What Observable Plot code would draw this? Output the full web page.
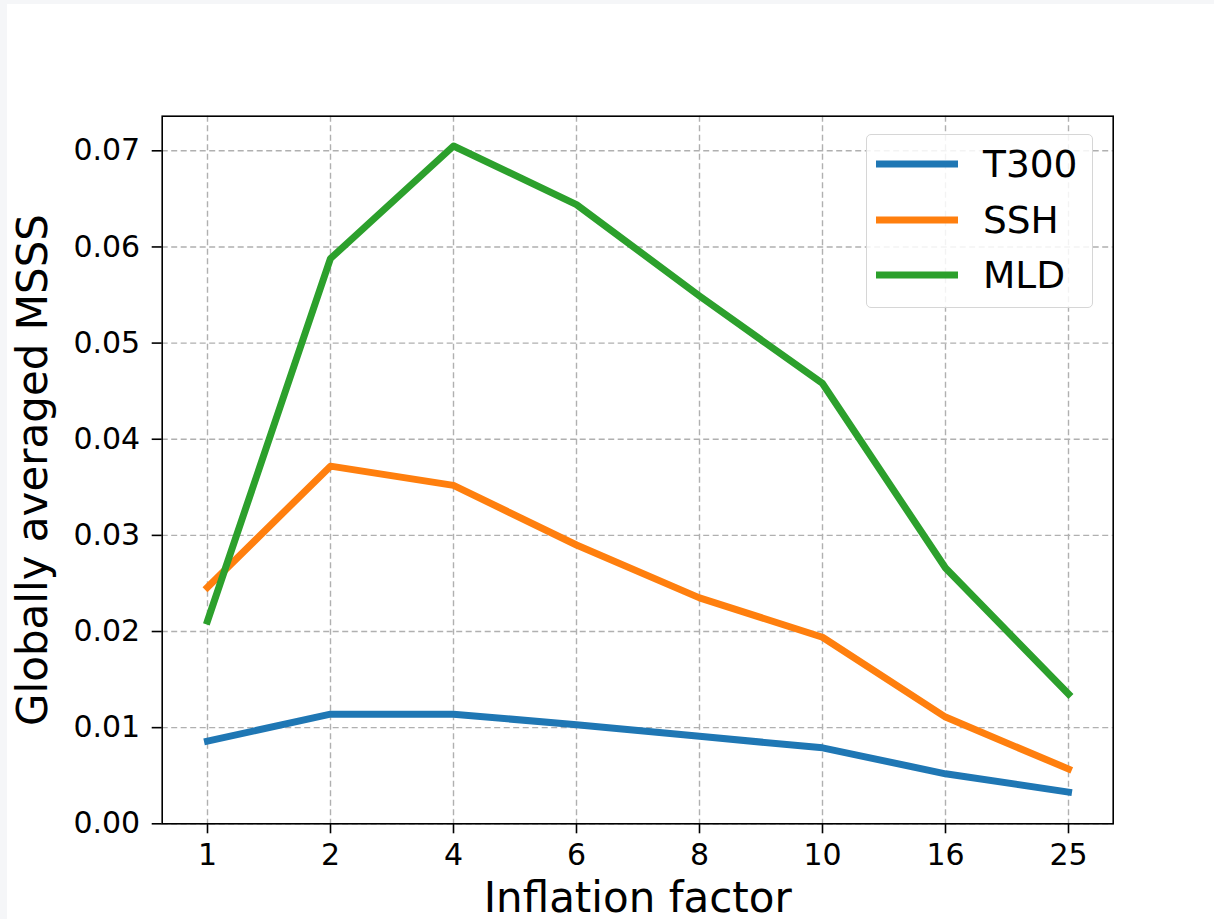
<!DOCTYPE html>
<html>
<head>
<meta charset="utf-8">
<script src="https://cdn.jsdelivr.net/npm/d3@7"></script>
<script src="https://cdn.jsdelivr.net/npm/@observablehq/plot@0.6"></script>
<style>
  html, body { margin: 0; padding: 0; background: #f5f6f8; }
  #panel { position: absolute; left: 7px; top: 4px; width: 1207px; height: 915px; background: #fff; overflow: hidden; }
  #legend { position: absolute; box-sizing: border-box; border: 1.5px solid #d6d6d6; border-radius: 5px; background: rgba(255,255,255,0.85);
            font-family: "DejaVu Sans", sans-serif; font-size: 37.5px; color: #000; }
  .lg-row { position: absolute; left: 0; height: 40px; display: flex; align-items: center; }
  .lg-row svg { margin-left: 9px; }
  .lg-row span { margin-left: 25px; line-height: 40px; }
</style>
</head>
<body>
<div id="panel"></div>
<script>
const factors = ["1", "2", "4", "6", "8", "10", "16", "25"];
const seriesNames = ["T300", "SSH", "MLD"];
const seriesColors = ["#1f77b4", "#ff7f0e", "#2ca02c"];
const t300 = [0.0086, 0.0114, 0.0114, 0.0103, 0.0091, 0.0079, 0.0052, 0.0033];
const ssh  = [0.0246, 0.0372, 0.0352, 0.0290, 0.0235, 0.0194, 0.0111, 0.0057];
const mld  = [0.0211, 0.0588, 0.0705, 0.0644, 0.0549, 0.0458, 0.0266, 0.0135];
const yTicks = [0, 0.01, 0.02, 0.03, 0.04, 0.05, 0.06, 0.07];

const seriesValues = [t300, ssh, mld];
const rows = seriesNames.flatMap((name, i) =>
  factors.map((f, j) => ({series: name, factor: f, value: seriesValues[i][j]})));

const W = 1207, H = 915;
const mL = 154.7, mT = 111.7, mR = 101.3, mB = 95.7;

const chart = Plot.plot({
  width: W,
  height: H,
  marginLeft: mL,
  marginTop: mT,
  marginRight: mR,
  marginBottom: mB,
  style: {fontFamily: "DejaVu Sans, sans-serif", fontSize: "30px", color: "#000", background: "#fff", overflow: "visible"},
  x: {type: "point", domain: factors, padding: 0.35},
  y: {domain: [0, 0.0736]},
  color: {domain: seriesNames, range: seriesColors},
  marks: [
    Plot.gridX(factors, {stroke: "#b0b0b0", strokeOpacity: 1, strokeWidth: 1.4, strokeDasharray: "6,3.5"}),
    Plot.gridY(yTicks, {stroke: "#b0b0b0", strokeOpacity: 1, strokeWidth: 1.4, strokeDasharray: "6,3.5"}),
    Plot.axisX(factors, {anchor: "bottom", tickSize: 10, tickPadding: 10, strokeWidth: 1.6,
      label: "Inflation factor", labelAnchor: "center", labelArrow: "none", labelOffset: 88, fontSize: 30}),
    Plot.axisY(yTicks, {anchor: "left", tickSize: 10, tickPadding: 12, strokeWidth: 1.6, tickFormat: d3.format(".2f"),
      label: "Globally averaged MSSS", labelAnchor: "center", labelArrow: "none", labelOffset: 145, fontSize: 30}),
    Plot.line(rows, {x: "factor", y: "value", z: "series", stroke: d => d.series,
      strokeWidth: 7, strokeLinecap: "square", strokeLinejoin: "round"}),
    Plot.frame({stroke: "#000", strokeWidth: 1.6})
  ]
});
document.getElementById("panel").appendChild(chart);

// enlarge axis label font
d3.select(chart).selectAll("g[aria-label='x-axis label'] text, g[aria-label='y-axis label'] text")
  .style("font-size", "42px");

// legend overlay
const legend = document.createElement("div");
legend.id = "legend";
legend.style.left = (866 - 7) + "px";
legend.style.top = (134 - 4) + "px";
legend.style.width = "227px";
legend.style.height = "174px";
seriesNames.forEach((name, i) => {
  const row = document.createElement("div");
  row.className = "lg-row";
  row.style.top = (9 + i * 55.5) + "px";
  row.innerHTML = `<svg width="82" height="10"><line x1="0" x2="82" y1="5" y2="5" stroke="${seriesColors[i]}" stroke-width="7"/></svg><span>${name}</span>`;
  legend.appendChild(row);
});
document.getElementById("panel").appendChild(legend);
</script>
</body>
</html>
